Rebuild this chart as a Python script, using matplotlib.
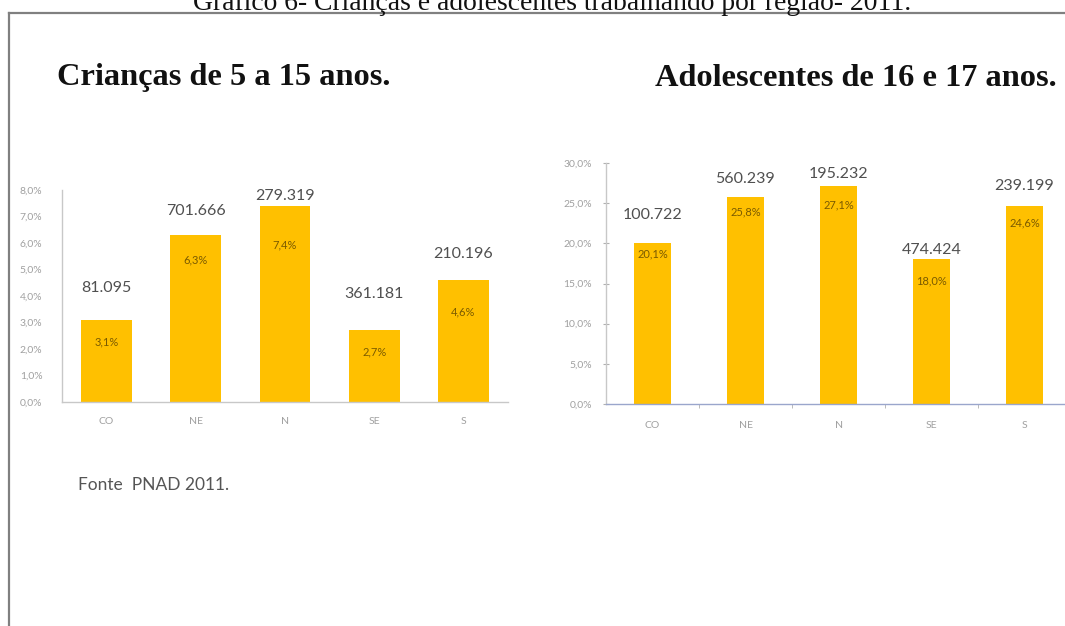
import matplotlib
matplotlib.use('Agg')
import matplotlib.pyplot as plt
from matplotlib.lines import Line2D

# dados
regioes = ['CO', 'NE', 'N', 'SE', 'S']

criancas_pct = [3.1, 6.3, 7.4, 2.7, 4.6]
criancas_num = ['81.095', '701.666', '279.319', '361.181', '210.196']

adolesc_pct = [20.1, 25.8, 27.1, 18.0, 24.6]
adolesc_num = ['100.722', '560.239', '195.232', '474.424', '239.199']

ticks_criancas = [0, 1, 2, 3, 4, 5, 6, 7, 8]
ticks_adolesc = [0, 5, 10, 15, 20, 25, 30]

W, H = 1065, 626
ouro = '#FFC000'
cinza_txt = '#a0a0a0'
num_font = ['Lato', 'DejaVu Sans']

fig = plt.figure(figsize=(W / 100, H / 100), dpi=100)
fig.patch.set_facecolor('white')


def px_axes(x0, x1, ytop, ybot):
    return fig.add_axes([x0 / W, 1 - ybot / H, (x1 - x0) / W, (ybot - ytop) / H])


def pct(v):
    return f'{v:.1f}%'.replace('.', ',')


def desenha(ax, valores, numeros, ticks, largura, off_num, off_pct, eixo_cor, com_ticks):
    x = range(len(regioes))
    bars = ax.bar(x, valores, width=largura, color=ouro, zorder=2)
    ax.set_xlim(-0.5, len(regioes) - 0.5)
    ax.set_ylim(ticks[0], ticks[-1])
    ax.set_yticks(ticks)
    ax.set_yticklabels([pct(t) for t in ticks], fontsize=7.5, color=cinza_txt, family=num_font)
    ax.set_xticks(list(x))
    ax.set_xticklabels(regioes, fontsize=7.5, color=cinza_txt, family=num_font)
    for s in ('top', 'right'):
        ax.spines[s].set_visible(False)
    ax.spines['left'].set_color('#c8c8c8')
    ax.spines['bottom'].set_color(eixo_cor)
    ax.spines['left'].set_linewidth(1)
    ax.spines['bottom'].set_linewidth(1)
    if com_ticks:
        ax.tick_params(axis='y', length=4, color='#b0b0b0', direction='inout', pad=8)
        ax.set_xticks([i + 0.5 for i in x][:-1], minor=True)
        ax.tick_params(axis='x', which='minor', length=3, color='#b0b0b0')
        ax.tick_params(axis='x', which='major', length=0, pad=12)
    else:
        ax.tick_params(axis='y', length=0, pad=14)
        ax.tick_params(axis='x', length=0, pad=11)
    for b, v, n, o1, o2 in zip(bars, valores, numeros, off_num, off_pct):
        xc = b.get_x() + b.get_width() / 2
        ax.annotate(n, (xc, v), xytext=(0, o1), textcoords='offset pixels',
                    ha='center', va='center', fontsize=11.5, color='#505050', family=num_font)
        ax.annotate(pct(v), (xc, v), xytext=(0, -o2), textcoords='offset pixels',
                    ha='center', va='center', fontsize=8, color='#7a5a00', family=num_font)


ax1 = px_axes(62, 508, 190, 402)
desenha(ax1, criancas_pct, criancas_num, ticks_criancas, 0.57,
        [32, 24, 10, 36, 26], [22, 25, 39, 21, 32], '#c8c8c8', False)

ax2 = px_axes(606, 1071, 163, 404)
desenha(ax2, adolesc_pct, adolesc_num, ticks_adolesc, 0.40,
        [28, 18, 12, 9, 20], [11, 15, 19, 22, 17], '#9aa6cc', True)

# títulos
fig.text(57 / W, 1 - 78 / H, 'Crianças de 5 a 15 anos.', fontsize=23.3, fontweight='bold',
         family='Liberation Serif', ha='left', va='center', color='#111111')
fig.text(655 / W, 1 - 78 / H, 'Adolescentes de 16 e 17 anos.', fontsize=23.3, fontweight='bold',
         family='Liberation Serif', ha='left', va='center', color='#111111')

# legenda do documento (cortada no topo)
fig.text(552 / W, 1 - 10 / H, 'Gráfico 6- Crianças e adolescentes trabalhando por região- 2011.',
         fontsize=19.9, family='Liberation Serif', ha='center', va='baseline', color='#111111')

fig.text(78 / W, 1 - 485 / H, 'Fonte  PNAD 2011.', fontsize=12.5, family=num_font,
         ha='left', va='center', color='#555555')

# moldura
fig.add_artist(Line2D([9 / W, 1], [1 - 12.5 / H, 1 - 12.5 / H], transform=fig.transFigure,
                      color='#808080', linewidth=1.6))
fig.add_artist(Line2D([9 / W, 9 / W], [1 - 12.5 / H, 0], transform=fig.transFigure,
                      color='#808080', linewidth=1.6))

fig.savefig('out.png', dpi=100, facecolor='white')
